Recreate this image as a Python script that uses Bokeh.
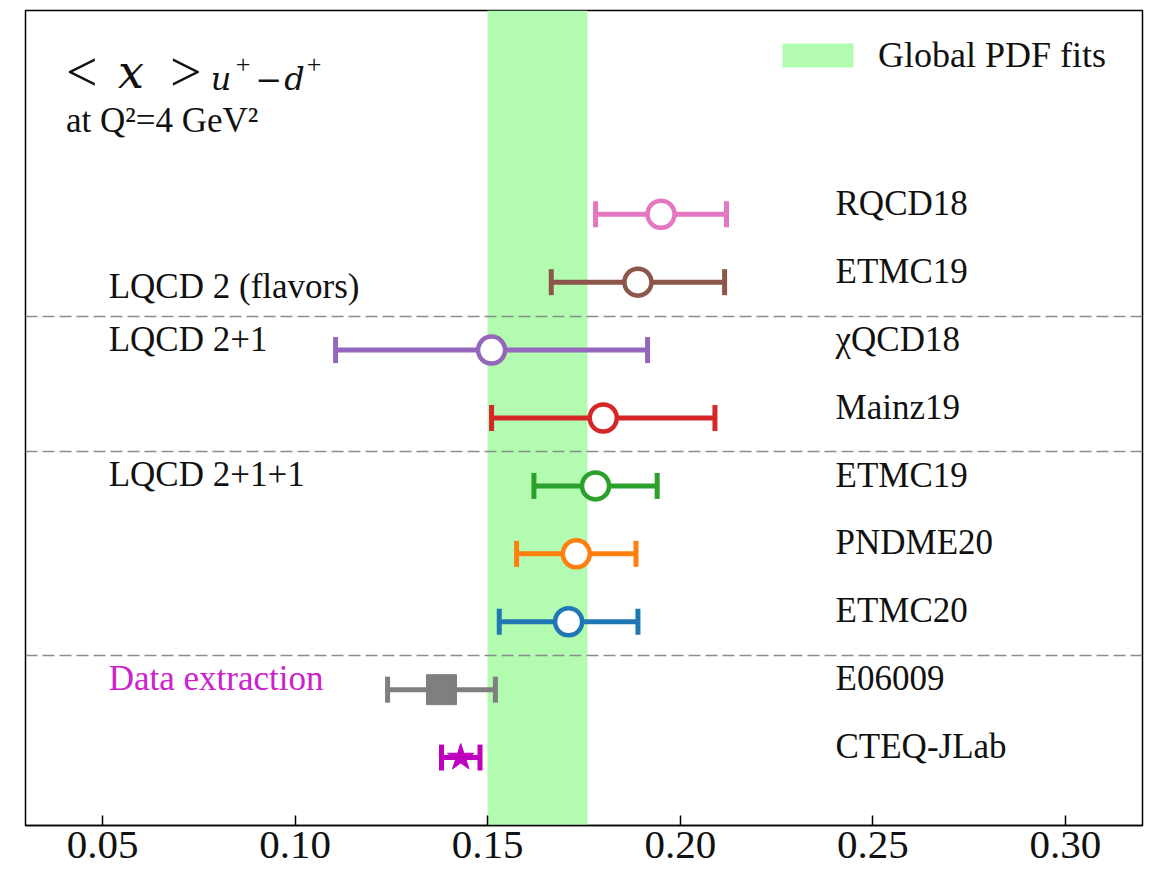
import numpy as np
from bokeh.plotting import figure
from bokeh.models import Range1d, FixedTicker, Legend, LegendItem
from bokeh.core.properties import value
from bokeh.embed import file_html
from bokeh.resources import INLINE

# Moments <x>_{u+ - d+} at Q^2 = 4 GeV^2, listed top to bottom
names = ["RQCD18", "ETMC19", "χQCD18", "Mainz19", "ETMC19",
         "PNDME20", "ETMC20", "E06009", "CTEQ-JLab"]
centers = [0.195, 0.189, 0.151, 0.180, 0.178, 0.173, 0.171, 0.138, 0.143]
errors = [0.017, 0.0225, 0.0405, 0.029, 0.016, 0.0155, 0.018, 0.014, 0.005]
colors = ["#e377c2", "#8c564b", "#9467bd", "#d62728", "#2ca02c",
          "#ff7f0e", "#1f77b4", "#7f7f7f", "#bf00bf"]
markers = ["circle"] * 7 + ["square", "star"]

# Global PDF fit band
pdf_band = (0.150, 0.176)

# Group separators and group titles
group_breaks = [2.5, 5.5, 7.5]
group_names = ["LQCD 2 (flavors)", "LQCD 2+1", "LQCD 2+1+1", "Data extraction"]
group_y = [7.94, 7.16, 5.17, 2.16]
group_colors = ["#111111", "#111111", "#111111", "#cc22cc"]

tick_values = [0.05, 0.10, 0.15, 0.20, 0.25, 0.30]
tick_labels = ["0.05", "0.10", "0.15", "0.20", "0.25", "0.30"]

SERIF = "Liberation Serif"
MATH = "DejaVu Serif"
INK = "#111111"

n = len(names)
rows = np.arange(n, 0, -1).astype(float)
c = np.array(centers)
e = np.array(errors)
lo = c - e
hi = c + e

p = figure(width=1154, height=869, x_range=Range1d(0.03, 0.32), y_range=Range1d(0, 12),
           output_backend="svg", toolbar_location=None, y_axis_location=None,
           min_border_left=25, min_border_right=12, min_border_top=10, min_border_bottom=44)
p.xgrid.visible = False
p.ygrid.visible = False
p.outline_line_color = "black"
p.outline_line_width = 1.5
p.background_fill_color = "white"
p.border_fill_color = "white"

ax = p.xaxis[0]
ax.ticker = FixedTicker(ticks=tick_values)
ax.major_label_overrides = {t: s for t, s in zip(tick_values, tick_labels)}
ax.major_tick_in = 10
ax.major_tick_out = 0
ax.minor_tick_in = 0
ax.minor_tick_out = 0
ax.axis_line_width = 1.5
ax.major_tick_line_width = 1.5
ax.major_label_text_font = SERIF
ax.major_label_text_font_size = "41px"
ax.major_label_text_color = INK
ax.major_label_standoff = 6

# band behind everything
band = p.vstrip(x0=[pdf_band[0]], x1=[pdf_band[1]], fill_color="#b3fbb0", line_alpha=0)

# group separators
p.hspan(y=group_breaks, line_color="#8c8c8c", line_width=1.3, line_dash="12 5")

# error bars with caps
p.segment(x0=lo, y0=rows, x1=hi, y1=rows, line_color=colors, line_width=5)
p.scatter(x=np.concatenate([lo, hi]), y=np.concatenate([rows, rows]), marker="dash",
          angle=np.pi / 2, size=26, line_color=colors * 2, line_width=5)

# central values
for xi, yi, col, mk in zip(c, rows, colors, markers):
    if mk == "circle":
        p.scatter([xi], [yi], marker="circle", size=27, fill_color="white",
                  line_color=col, line_width=4.5)
    elif mk == "square":
        p.scatter([xi], [yi], marker="square", size=30, fill_color=col, line_color=col)
    else:
        p.scatter([xi], [yi], marker="star", size=28, fill_color=col, line_color=col)

# calculation / extraction names
p.text(x=[0.2403] * n, y=rows + 0.16, text=names, text_font=value(SERIF),
       text_font_size="35px", text_baseline="middle", text_color=INK)

# group titles
p.text(x=[0.0516] * len(group_names), y=group_y, text=group_names, text_font=value(SERIF),
       text_font_size="35px", text_baseline="middle", text_color=group_colors)


def header(x, y, s, size, italic=False, font=SERIF):
    p.text(x=[x], y=[y], text=[s], text_font=value(font), text_font_size=size,
           text_font_style="italic" if italic else "normal",
           text_baseline="alphabetic", text_color=INK)


# header: <x>_{u+ - d+}
header(0.0405, 11.10, "<", "56px")
header(0.0540, 11.10, "x", "46px", italic=True, font=MATH)
header(0.0675, 11.10, ">", "56px")
header(0.0781, 10.99, "u", "32px", italic=True, font=MATH)
header(0.0846, 11.20, "+", "26px")
header(0.0897, 10.99, "−", "32px", font=MATH)
header(0.0972, 10.99, "d", "32px", italic=True, font=MATH)
header(0.1030, 11.20, "+", "26px")
header(0.0405, 10.38, "at Q²=4 GeV²", "35px")

legend = Legend(items=[LegendItem(label="Global PDF fits", renderers=[band])],
                location="top_right", glyph_width=89, glyph_height=30,
                label_text_font=SERIF, label_text_font_size="36px",
                label_text_color=INK, label_standoff=16, label_width=240,
                border_line_alpha=0, background_fill_alpha=0, margin=10, padding=14)
p.add_layout(legend)

open("out.html", "w").write(file_html(p, INLINE))
